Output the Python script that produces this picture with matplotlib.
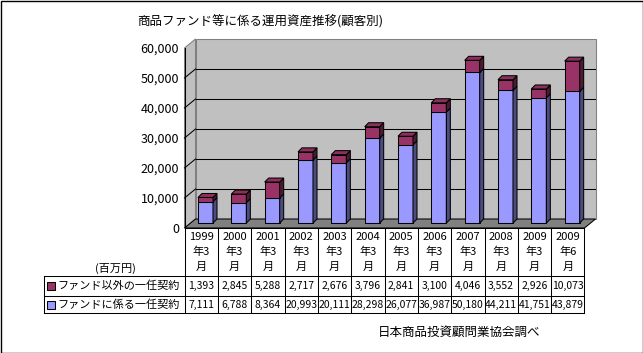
import matplotlib
matplotlib.use("Agg")
import matplotlib.pyplot as plt
from matplotlib.patches import Polygon, Rectangle

plt.rcParams['font.family'] = ['Noto Sans CJK JP', 'DejaVu Sans']

# ---------------- data ----------------
title = "商品ファンド等に係る運用資産推移(顧客別)"
categories = ["1999\n年3\n月", "2000\n年3\n月", "2001\n年3\n月", "2002\n年3\n月",
              "2003\n年3\n月", "2004\n年3\n月", "2005\n年3\n月", "2006\n年3\n月",
              "2007\n年3\n月", "2008\n年3\n月", "2009\n年3\n月", "2009\n年6\n月"]
series_names = ["ファンド以外の一任契約", "ファンドに係る一任契約"]
other_contracts = [1393, 2845, 5288, 2717, 2676, 3796, 2841, 3100, 4046, 3552, 2926, 10073]
fund_contracts = [7111, 6788, 8364, 20993, 20111, 28298, 26077, 36987, 50180, 44211, 41751, 43879]
yticks = [0, 10000, 20000, 30000, 40000, 50000, 60000]
unit_label = "(百万円)"
source_label = "日本商品投資顧問業協会調べ"

# ---------------- style ----------------
BLUE, BLUE_SIDE = "#9999FF", "#4C4C80"
MAROON, MAROON_SIDE, MAROON_TOP = "#993366", "#4D1A33", "#8C2F5C"
WALL, WALL_EDGE, FLOOR = "#C0C0C0", "#808080", "#808080"
LW = 0.75

W, H = 643, 353
fig = plt.figure(figsize=(W / 100, H / 100), dpi=100)
fig.patch.set_facecolor("white")

def fx(px):
    return px / W

def fy(py):
    return 1 - py / H

# front plane of the chart, in pixels
L, R, T, B = 184.5, 584.5, 48, 228
n = len(categories)
ymax = yticks[-1]
ax = fig.add_axes([fx(L), fy(B), (R - L) / W, (B - T) / H])
ax.set_xlim(-0.5, n - 0.5)
ax.set_ylim(0, ymax)
ax.patch.set_visible(False)
for s in ax.spines.values():
    s.set_visible(False)
ax.set_xticks([])
ax.set_yticks(yticks)
ax.set_yticklabels([f"{v:,}" for v in yticks])
ax.tick_params(axis="y", length=0, pad=4, labelsize=9)

ux = n / (R - L)          # data units per pixel (x)
uy = ymax / (B - T)       # data units per pixel (y)

# walls / floor depth
dxw, dyw = 11 * ux, 9 * uy
x0, x1 = -0.5, n - 0.5

side_wall = Polygon([(x0, 0), (x0 + dxw, dyw), (x0 + dxw, ymax + dyw), (x0, ymax)],
                    closed=True, fc=WALL, ec=WALL_EDGE, lw=LW, clip_on=False, zorder=1)
ax.add_patch(side_wall)
back_wall = Rectangle((x0 + dxw, dyw), n, ymax, fc=WALL, ec=WALL_EDGE, lw=LW,
                      clip_on=False, zorder=1)
ax.add_patch(back_wall)
floor = Polygon([(x0, 0), (x1, 0), (x1 + dxw, dyw), (x0 + dxw, dyw)], closed=True,
                fc=FLOOR, ec="black", lw=LW, clip_on=False, zorder=2)
ax.add_patch(floor)

for v in yticks[1:-1]:
    ax.plot([x0 + dxw, x1 + dxw], [v + dyw, v + dyw], color="black", lw=LW,
            clip_on=False, zorder=2)
    ax.plot([x0, x0 + dxw], [v, v + dyw], color="black", lw=LW, clip_on=False, zorder=2)
ax.plot([x0, x0], [0, ymax], color="black", lw=LW, clip_on=False, zorder=3)

# bars
base = 5 * uy
bw = 15 * ux
dxb, dyb = 4 * ux, 4 * uy

def box(xl, b, t, front, side, top=None):
    xr = xl + bw
    ax.add_patch(Rectangle((xl, b), bw, t - b, fc=front, ec="black", lw=LW,
                           clip_on=False, zorder=4))
    ax.add_patch(Polygon([(xr, b), (xr + dxb, b + dyb), (xr + dxb, t + dyb), (xr, t)],
                         closed=True, fc=side, ec="black", lw=LW, clip_on=False, zorder=4))
    if top is not None:
        ax.add_patch(Polygon([(xl, t), (xl + dxb, t + dyb), (xr + dxb, t + dyb), (xr, t)],
                             closed=True, fc=top, ec="black", lw=LW, clip_on=False, zorder=4))

for i in range(n):
    xl = i - 0.5 + 13.5 * ux
    b1 = base
    t1 = base + fund_contracts[i]
    t2 = t1 + other_contracts[i]
    box(xl, b1, t1, BLUE, BLUE_SIDE)
    box(xl, t1, t2, MAROON, MAROON_SIDE, MAROON_TOP)

# ---------------- data table ----------------
TB = 313
tax = fig.add_axes([fx(L), fy(TB), (R - L) / W, (TB - B) / H])
tax.set_xlim(-0.5, n - 0.5)
tax.set_ylim(TB - B, 0)
tax.axis("off")
rows_y = [0, 48, 68, 85]
x_leg = -0.5 - (L - 44) * ux

tax.plot([x0, x1], [0, 0], color="black", lw=LW, clip_on=False)
for yy in rows_y[1:]:
    tax.plot([x_leg, x1], [yy, yy], color="black", lw=LW, clip_on=False)
for i in range(n + 1):
    tax.plot([i - 0.5, i - 0.5], [0, rows_y[-1]], color="black", lw=LW, clip_on=False)
tax.plot([x_leg, x_leg], [rows_y[1], rows_y[-1]], color="black", lw=LW, clip_on=False)

for i, cat in enumerate(categories):
    for k, line in enumerate(cat.split("\n")):
        tax.text(i, 9 + 15 * k, line, ha="center", va="center", fontsize=8)

row_vals = [other_contracts, fund_contracts]
row_cols = [MAROON, BLUE]
for r in range(2):
    yc = (rows_y[r + 1] + rows_y[r + 2]) / 2
    for i, v in enumerate(row_vals[r]):
        tax.text(i, yc, f"{v:,}", ha="center", va="center", fontsize=7.5)
    tax.add_patch(Rectangle((x_leg + 3 * ux, yc - 4), 8 * ux, 8, fc=row_cols[r],
                            ec="black", lw=LW, clip_on=False))
    tax.text(x_leg + 13 * ux, yc, series_names[r], ha="left", va="center", fontsize=8)

# ---------------- texts ----------------
fig.text(fx(260), fy(22), title, ha="center", va="center", fontsize=9)
fig.text(fx(115), fy(268), unit_label, ha="center", va="center", fontsize=8)
fig.text(fx(459), fy(332), source_label, ha="center", va="center", fontsize=9)

# outer frame
fig.add_artist(Rectangle((0.5 / W, 0.5 / H), 1 - 1 / W, 1 - 1 / H, transform=fig.transFigure,
                         fill=False, ec="black", lw=1))

fig.savefig("out.png", dpi=100)
